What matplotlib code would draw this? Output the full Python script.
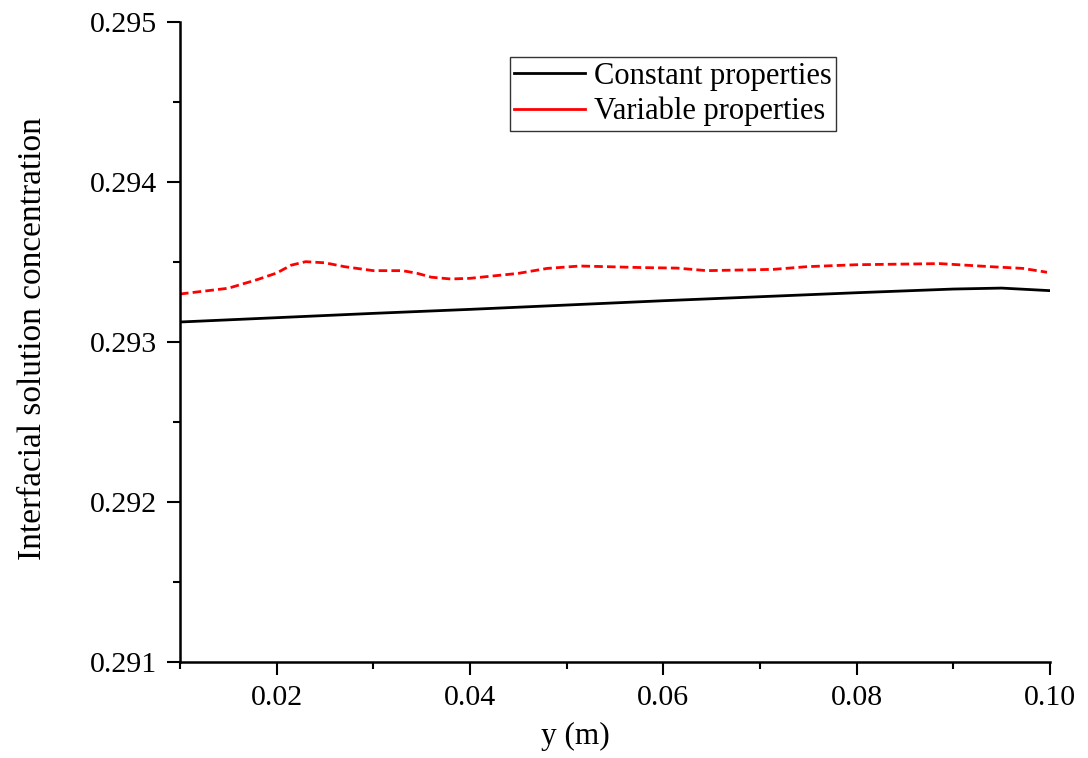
import matplotlib.pyplot as plt
from matplotlib.lines import Line2D

plt.rcParams['font.family'] = ['Liberation Serif', 'DejaVu Serif']

# constant properties (black)
x_const = [0.010, 0.020, 0.030, 0.040, 0.050, 0.060, 0.070, 0.080, 0.090, 0.095, 0.100]
c_const = [0.293125, 0.293152, 0.293179, 0.293204, 0.293231, 0.293258,
           0.293283, 0.293308, 0.293331, 0.293337, 0.293321]

# variable properties (red dashed)
x_var = [0.010, 0.015, 0.018, 0.020, 0.0215, 0.023, 0.025, 0.027, 0.030, 0.033,
         0.0345, 0.036, 0.038, 0.040, 0.045, 0.048, 0.0514, 0.0579, 0.0614, 0.0645,
         0.0714, 0.0749, 0.080, 0.0886, 0.0938, 0.0972, 0.0997]
c_var = [0.293300, 0.293336, 0.293390, 0.293431, 0.293480, 0.293502, 0.293495,
         0.293471, 0.293446, 0.293446, 0.293430, 0.293405, 0.293394, 0.293398,
         0.293429, 0.293460, 0.293475, 0.293465, 0.293462, 0.293446, 0.293454,
         0.293471, 0.293483, 0.293490, 0.293471, 0.293460, 0.293436]

xticks = [0.02, 0.04, 0.06, 0.08, 0.10]
xtick_labels = ['0.02', '0.04', '0.06', '0.08', '0.10']
yticks = [0.291, 0.292, 0.293, 0.294, 0.295]
ytick_labels = ['0.291', '0.292', '0.293', '0.294', '0.295']

fig = plt.figure(figsize=(10.88, 7.58), dpi=100)
ax = fig.add_axes([0.1654, 0.1266, 0.7996, 0.8444])

ax.plot(x_const, c_const, color='black', lw=2.0)
l2, = ax.plot(x_var, c_var, color='red', lw=2.0)
l2.set_dashes((3.1, 1.5))

ax.set_xlim(0.01, 0.10)
ax.set_ylim(0.291, 0.295)
ax.set_xticks(xticks)
ax.set_xticklabels(xtick_labels)
ax.set_xticks([0.01, 0.03, 0.05, 0.07, 0.09], minor=True)
ax.set_yticks(yticks)
ax.set_yticklabels(ytick_labels)
ax.set_yticks([0.2915, 0.2925, 0.2935, 0.2945], minor=True)

for s in ['top', 'right']:
    ax.spines[s].set_visible(False)
for s in ['left', 'bottom']:
    ax.spines[s].set_linewidth(1.8)

ax.tick_params(which='major', direction='out', length=9.4, width=1.5, labelsize=21.5, pad=7)
ax.tick_params(which='minor', direction='out', length=5, width=1.5)

ax.set_xlabel('y (m)', fontsize=22.5, va='top')
ax.xaxis.set_label_coords(0.454, -0.093)
ax.set_ylabel('Interfacial solution concentration', fontsize=24)
ax.yaxis.set_label_coords(-0.152, 0.505)

handles = [Line2D([], [], color='black', lw=2.0), Line2D([], [], color='red', lw=2.0)]
leg = ax.legend(handles, ['Constant properties', 'Variable properties'],
                loc='upper left', bbox_to_anchor=(0.379, 0.945), fontsize=22,
                frameon=True, fancybox=False, edgecolor='black', handlelength=2.3,
                handletextpad=0.3, borderpad=0.15, labelspacing=0.2, borderaxespad=0)
leg.get_frame().set_linewidth(1.0)

fig.savefig('out.png', dpi=100)
